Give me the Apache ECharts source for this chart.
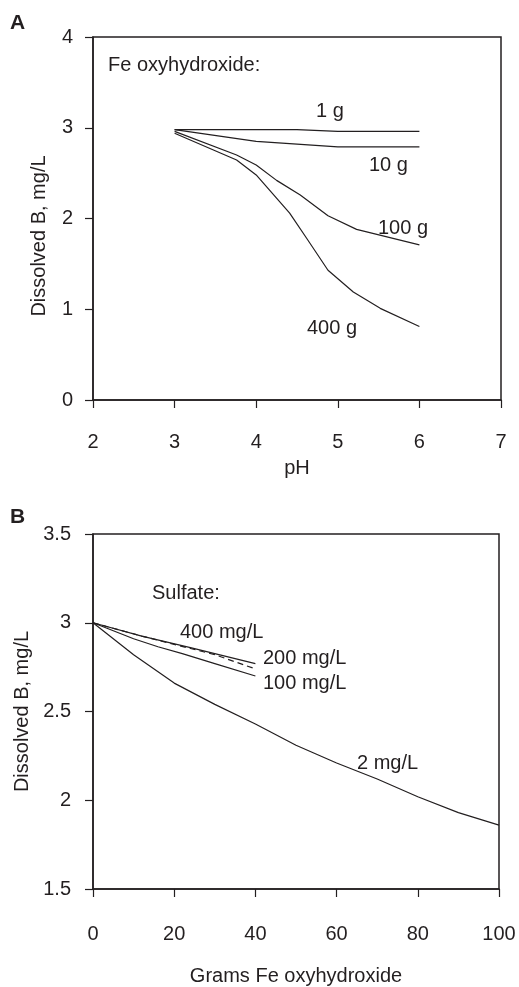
<!DOCTYPE html>
<html><head><meta charset="utf-8">
<script src="https://cdn.jsdelivr.net/npm/echarts@6/dist/echarts.min.js"></script>
<style>html,body{margin:0;padding:0;background:#fff}#c{width:519px;height:987px}</style>
</head><body><div id="c"></div>
<script>
// Panel A: dissolved B vs pH for Fe oxyhydroxide doses
const seriesA_names = ['1 g', '10 g', '100 g', '400 g'];
const a1g   = [[3,2.98],[4.5,2.98],[5,2.96],[6,2.96]];
const a10g  = [[3,2.98],[4,2.85],[5,2.79],[6,2.79]];
const a100g = [[3,2.96],[3.76,2.70],[4.0,2.59],[4.25,2.42],[4.54,2.26],[4.88,2.03],[5.23,1.88],[6.0,1.71]];
const a400g = [[3,2.94],[3.76,2.645],[4.0,2.48],[4.41,2.06],[4.62,1.78],[4.88,1.43],[5.19,1.19],[5.52,1.01],[6.0,0.81]];
// Panel B: dissolved B vs grams Fe oxyhydroxide for sulfate levels
const seriesB_names = ['400 mg/L', '200 mg/L', '100 mg/L', '2 mg/L'];
const b400 = [[0,3.0],[12,2.925],[24,2.86],[40,2.77]];
const b200 = [[0,3.0],[12,2.925],[24,2.855],[30,2.82],[40,2.74]];
const b100 = [[0,3.0],[10,2.91],[16,2.865],[22,2.826],[30,2.77],[40,2.70]];
const b2   = [[0,3.0],[10,2.82],[20,2.66],[30,2.54],[40,2.43],[50,2.31],[60,2.21],[70,2.12],[80,2.02],[90,1.93],[100,1.86]];

const FONT = '"Liberation Sans", Arial, Helvetica, sans-serif';
const INK = '#231f20';
const FS = 20;

const chart = echarts.init(document.getElementById('c'), null, {renderer:'canvas'});

function axisCommon() {
  return {
    axisLine: {show:true, lineStyle:{color:INK, width:1.5}},
    axisTick: {show:true, inside:false, length:8, lineStyle:{color:INK, width:1.2}},
    splitLine: {show:false},
    axisLabel: {color:INK, fontSize:FS, fontFamily:FONT},
    nameTextStyle: {color:INK, fontSize:FS, fontFamily:FONT}
  };
}
function line(name, data, xi, dashed) {
  return {
    type:'line', name, data, xAxisIndex:xi, yAxisIndex:xi,
    showSymbol:false, symbol:'none', smooth:false, silent:true,
    lineStyle:{color:INK, width:1.2, type: dashed ? [6,4] : 'solid'}
  };
}
function txt(x, y, s, opts) {
  return Object.assign({type:'text', left:x, top:y, style:{text:s, fill:INK, fontSize:FS, fontFamily:FONT}, silent:true}, opts||{});
}

const option = {
  animation:false,
  backgroundColor:'#fff',
  grid:[
    {left:93, top:37, width:408, height:363, show:true, borderColor:INK, borderWidth:1.5},
    {left:93, top:534, width:406, height:358, show:true, borderColor:INK, borderWidth:1.5}
  ],
  xAxis:[
    Object.assign(axisCommon(), {type:'value', gridIndex:0, min:2, max:7, interval:1,
      name:'pH', nameLocation:'middle', nameGap:58,
      axisLabel:{color:INK, fontSize:FS, fontFamily:FONT, margin:32}}),
    Object.assign(axisCommon(), {type:'value', gridIndex:1, min:0, max:100, interval:20,
      name:'Grams Fe oxyhydroxide', nameLocation:'middle', nameGap:77,
      axisLabel:{color:INK, fontSize:FS, fontFamily:FONT, margin:35}})
  ],
  yAxis:[
    Object.assign(axisCommon(), {type:'value', gridIndex:0, min:0, max:4, interval:1,
      axisLabel:{color:INK, fontSize:FS, fontFamily:FONT, margin:20}}),
    Object.assign(axisCommon(), {type:'value', gridIndex:1, min:1.5, max:3.5, interval:0.5,
      name:'Dissolved B, mg/L', nameLocation:'middle', nameGap:47,
      axisLabel:{color:INK, fontSize:FS, fontFamily:FONT, margin:22}})
  ],
  series:[
    line(seriesA_names[0], a1g, 0),
    line(seriesA_names[1], a10g, 0),
    line(seriesA_names[2], a100g, 0),
    line(seriesA_names[3], a400g, 0),
    line(seriesB_names[0], b400, 1),
    line(seriesB_names[1], b200, 1, true),
    line(seriesB_names[2], b100, 1),
    line(seriesB_names[3], b2, 1)
  ],
  graphic:[
    txt(10, 13, 'A', {style:{text:'A', fill:INK, fontSize:21, fontWeight:'bold', fontFamily:FONT}}),
    txt(10, 507, 'B', {style:{text:'B', fill:INK, fontSize:21, fontWeight:'bold', fontFamily:FONT}}),
    {type:'text', x:39, y:236, rotation:Math.PI/2, silent:true,
      style:{text:'Dissolved B, mg/L', fill:INK, fontSize:FS, fontFamily:FONT, align:'center', verticalAlign:'middle'}},
    txt(108, 55, 'Fe oxyhydroxide:'),
    txt(316, 101, seriesA_names[0]),
    txt(369, 155, seriesA_names[1]),
    txt(378, 218, seriesA_names[2]),
    txt(307, 318, seriesA_names[3]),
    txt(152, 583, 'Sulfate:'),
    txt(180, 622, seriesB_names[0]),
    txt(263, 648, seriesB_names[1]),
    txt(263, 673, seriesB_names[2]),
    txt(357, 753, seriesB_names[3])
  ]
};
chart.setOption(option);
</script></body></html>
